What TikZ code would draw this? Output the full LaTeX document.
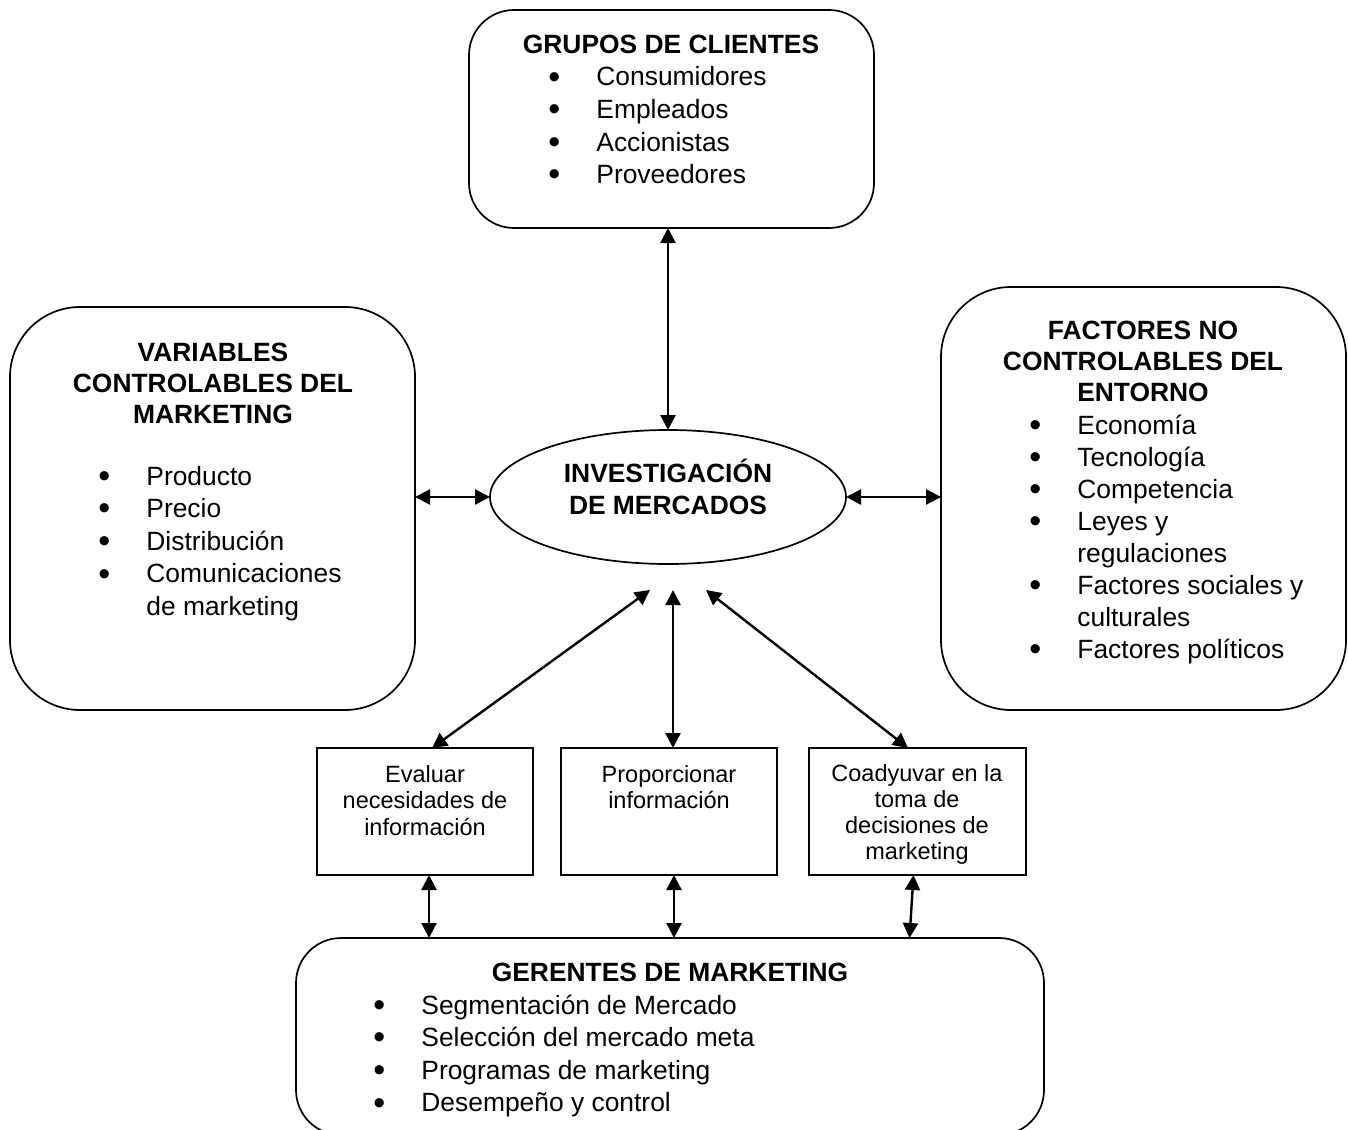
\documentclass[tikz,border=0pt]{standalone}
\usepackage{fontspec}
\setmainfont{Liberation Sans}
\usepackage{tikz}
\usetikzlibrary{arrows.meta,shapes.geometric}

\newcommand{\bul}[1]{\makebox[24pt][l]{\raisebox{-1.1pt}{\fontsize{17}{0}\selectfont\textbullet}}#1}
\newcommand{\ctab}[1]{\begin{tabular}[t]{@{}c@{}}#1\end{tabular}}
\newcommand{\ltab}[1]{\begin{tabular}[t]{@{}l@{}}#1\end{tabular}}

\begin{document}
\begin{tikzpicture}[x=0.5pt,y=-0.5pt]
\useasboundingbox (0,0) rectangle (1348,1129);
\clip (0,0) rectangle (1348,1129);
	% boxes
	\begin{scope}[every node/.style = {draw, line width=0.85pt, inner sep=0pt, outer sep=0pt,
		rounded corners=22.5pt}]
		\node[minimum width=202.5pt, minimum height=109pt] (GC) at (671.5,119) {};
		\node[minimum width=202.5pt, minimum height=201.5pt, rounded corners=35pt] (VC) at (212.5,508.5) {};
		\node[minimum width=202.5pt, minimum height=211.5pt, rounded corners=35pt] (FN) at (1143.5,498.5) {};
		\node[ellipse, sharp corners, minimum width=178pt, minimum height=67pt] (IM) at (668,497) {};
		\node[sharp corners, minimum width=108pt, minimum height=63.5pt] (EV) at (425,811.5) {};
		\node[sharp corners, minimum width=108pt, minimum height=63.5pt] (PI) at (669,811.5) {};
		\node[sharp corners, minimum width=108.5pt, minimum height=63.5pt] (CD) at (917.5,811.5) {};
		\node[minimum width=374pt, minimum height=98.5pt] (GM) at (670,1036.5) {};
	\end{scope}
	% texts
	\begin{scope}[every node/.style = {inner sep=0pt, anchor=base},
		ttl/.style = {font=\bfseries\fontsize{13.2}{15.5}\selectfont},
		lst/.style = {anchor=base west, font=\fontsize{13.2}{16.3}\selectfont},
		sml/.style = {font=\fontsize{11.75}{13.4}\selectfont}]
		\node[ttl] (GCt) at (671,54) {\ctab{GRUPOS DE CLIENTES}};
		\node[lst] (GCl) at (548,86) {\ltab{\bul{Consumidores}\\\bul{Empleados}\\\bul{Accionistas}\\\bul{Proveedores}}};
		\node[ttl] (VCt) at (213,361) {\ctab{VARIABLES\\CONTROLABLES DEL\\MARKETING}};
		\node[lst] (VCl) at (98,485) {\ltab{\bul{Producto}\\\bul{Precio}\\\bul{Distribución}\\\bul{Comunicaciones}\\\hspace*{24pt}de marketing}};
		\node[ttl] (FNt) at (1143,339) {\ctab{FACTORES NO\\CONTROLABLES DEL\\ENTORNO}};
		\node[lst, font=\fontsize{13.2}{16}\selectfont] (FNl) at (1029,434) {\ltab{\bul{Economía}\\\bul{Tecnología}\\\bul{Competencia}\\\bul{Leyes y}\\\hspace*{24pt}regulaciones\\\bul{Factores sociales y}\\\hspace*{24pt}culturales\\\bul{Factores políticos}}};
		\node[ttl, font=\bfseries\fontsize{13.2}{16}\selectfont] (IMt) at (668,482) {\ctab{INVESTIGACIÓN\\DE MERCADOS}};
		\node[sml] (EVt) at (425,782) {\ctab{Evaluar\\necesidades de\\información}};
		\node[sml] (PIt) at (669,782) {\ctab{Proporcionar\\información}};
		\node[sml, font=\fontsize{11.75}{13}\selectfont] (CDt) at (917,781) {\ctab{Coadyuvar en la\\toma de\\decisiones de\\marketing}};
		\node[ttl] (GMt) at (670,981) {\ctab{GERENTES DE MARKETING}};
		\node[lst] (GMl) at (373,1014) {\ltab{\bul{Segmentación de Mercado}\\\bul{Selección del mercado meta}\\\bul{Programas de marketing}\\\bul{Desempeño y control}}};
	\end{scope}
	% arrows
	\coordinate (a1) at (650,590);
	\coordinate (a2) at (673,590);
	\coordinate (a3) at (706,590);
	\begin{scope}[>={Triangle[length=7.5pt,width=7.5pt]},
			every edge/.style={draw=black, line width=1.2pt}]
		\path [<->] (GC.south -| IM.north) edge (IM.north);
		\path [<->] (IM.west -| VC.east) edge (IM.west);
		\path [<->] (IM.east) edge (IM.east -| FN.west);
		\path [<->] (a1) edge ([xshift=3.5pt]EV.north);
		\path [<->] (a2) edge (a2 |- PI.north);
		\path [<->] (a3) edge ([xshift=-4.75pt]CD.north);
		\path [<->] ([xshift=2pt]EV.south) edge ([xshift=2pt]EV.south |- GM.north);
		\path [<->] ([xshift=2.5pt]PI.south) edge ([xshift=2.5pt]PI.south |- GM.north);
		\path [<->] ([xshift=-2pt]CD.south) edge ([xshift=-4pt]CD.south |- GM.north);
	\end{scope}
\end{tikzpicture}
\end{document}
